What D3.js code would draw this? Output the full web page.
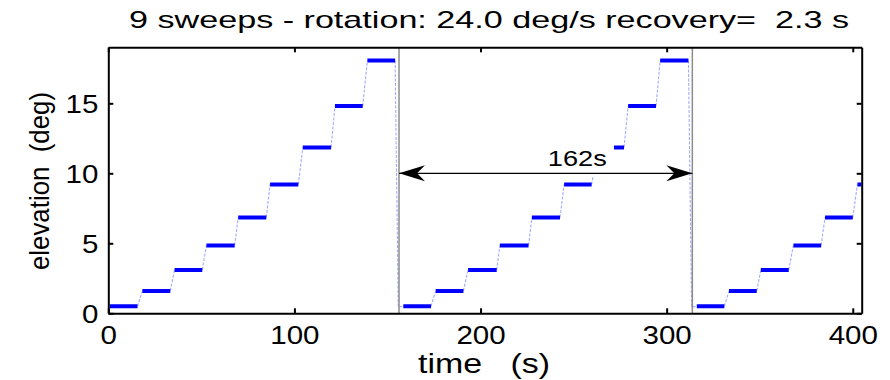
<!DOCTYPE html>
<html><head><meta charset="utf-8">
<script src="https://cdn.jsdelivr.net/npm/d3@7"></script>
<style>
html,body{margin:0;padding:0;background:#fff;}
text{font-family:"Liberation Sans",Arial,Helvetica,sans-serif;white-space:pre;}
</style></head>
<body><svg id="chart" width="890" height="380"></svg>
<script>
// ---- data ----
const stepLevels  = [0.5, 1.6, 3.1, 4.85, 6.85, 9.2, 11.85, 14.8, 18.05];
const cycle1Start = [0.8, 18.3, 35.6, 52.7, 69.8, 86.9, 104.5, 121.8, 139.2];
const cycle1End   = [15.7, 33.3, 50.5, 67.9, 84.9, 102.1, 119.7, 136.7, 154.1];
const cycle2Start = [158.5, 175.9, 193.3, 210.4, 227.6, 244.9, 271.7, 279.3, 296.5];
const cycle2End   = [173.4, 190.8, 208.7, 225.8, 242.7, 259.7, 277.1, 294.3, 311.7];
const cycle3Start = [316.2, 333.5, 350.6, 368.1, 385.1, 402.5];
const cycle3End   = [331.0, 348.4, 365.6, 383.0, 400.0, 404.8];
const resetTimes  = [155.8, 313.4];          // where the trace falls back to the lowest sweep
const gapTrace    = [[259.7, 9.2], [260.5, 9.8]]; // trace before data gap in cycle 2
const cycleMarks  = [156.2, 313.8];          // grey vertical markers
const arrowLevel  = 10;
const arrowLabel  = "162s";
const arrowLabelAt = 252;                    // time position of label centre
const xTicks = [0, 100, 200, 300, 400];
const yTicks = [0, 5, 10, 15];
const titleText = "9 sweeps - rotation: 24.0 deg/s recovery=  2.3 s";
const xLabel = "time   (s)";
const yLabel = "elevation  (deg)";

// ---- scales ----
const svg = d3.select("#chart");
const x = d3.scaleLinear().domain([0, 404.8]).range([108.3, 861.7]);
const y = d3.scaleLinear().domain([0, 19]).range([313.3, 47.3]);

// build step segments
const cycles = [[cycle1Start, cycle1End], [cycle2Start, cycle2End], [cycle3Start, cycle3End]];
const steps = [];
cycles.forEach(([s, e], ci) => s.forEach((t0, i) => steps.push({c: ci, i, t0, t1: e[i], v: stepLevels[i]})));

// thin trace segments
const traceSegs = [];
cycles.forEach(([s, e], ci) => {
  for (let i = 0; i < s.length - 1; i++) {
    if (ci === 1 && i === 5) continue; // data gap
    traceSegs.push([[e[i], stepLevels[i]], [s[i + 1], stepLevels[i + 1]]]);
  }
  if (ci < 2) {
    const last = s.length - 1;
    traceSegs.push([[e[last], stepLevels[last]], [resetTimes[ci], stepLevels[0] - 0.05], [cycles[ci + 1][0][0], stepLevels[0]]]);
  }
});
traceSegs.push(gapTrace);

svg.append("clipPath").attr("id", "clip").append("rect")
  .attr("x", x(0)).attr("y", y(19)).attr("width", x(404.8) - x(0)).attr("height", y(0) - y(19));

const plot = svg.append("g").attr("clip-path", "url(#clip)");
const line = d3.line().x(d => x(d[0])).y(d => y(d[1]));

plot.selectAll("path.trace").data(traceSegs).join("path")
  .attr("class", "trace").attr("d", line)
  .attr("fill", "none").attr("stroke", "#a2aaff").attr("stroke-width", 1.1)
  .attr("stroke-dasharray", "3,1.5");

plot.selectAll("line.step").data(steps).join("line")
  .attr("class", "step")
  .attr("x1", d => x(d.t0)).attr("x2", d => x(d.t1))
  .attr("y1", d => y(d.v)).attr("y2", d => y(d.v))
  .attr("stroke", "#0000ff").attr("stroke-width", 4);

plot.selectAll("line.mark").data(cycleMarks).join("line")
  .attr("class", "mark")
  .attr("x1", d => x(d)).attr("x2", d => x(d))
  .attr("y1", y(0)).attr("y2", y(19))
  .attr("stroke", "#8c8c8c").attr("stroke-width", 1.5);

// double arrow
const ax0 = x(cycleMarks[0]), ax1 = x(cycleMarks[1]), ay = y(arrowLevel);
svg.append("line").attr("x1", ax0).attr("x2", ax1).attr("y1", ay).attr("y2", ay)
  .attr("stroke", "#000").attr("stroke-width", 1.2);
const L = 26, W = 8, N = 18;
svg.append("path").attr("d", `M${ax0},${ay} L${ax0 + L},${ay - W} L${ax0 + N},${ay} L${ax0 + L},${ay + W} Z`).attr("fill", "#000");
svg.append("path").attr("d", `M${ax1},${ay} L${ax1 - L},${ay - W} L${ax1 - N},${ay} L${ax1 - L},${ay + W} Z`).attr("fill", "#000");
svg.append("text").attr("x", x(arrowLabelAt)).attr("y", ay - 7)
  .attr("text-anchor", "middle").attr("font-size", 22)
  .attr("textLength", 59).attr("lengthAdjust", "spacingAndGlyphs")
  .text(arrowLabel);

// axes
const sx = 1.18;
const gB = svg.append("g").attr("transform", `translate(0,${y(0)})`)
  .call(d3.axisBottom(x).tickValues(xTicks).tickSize(-5).tickSizeOuter(0).tickFormat(d3.format("d")));
const gT = svg.append("g").attr("transform", `translate(0,${y(19)})`)
  .call(d3.axisTop(x).tickValues(xTicks).tickSize(-5).tickSizeOuter(0).tickFormat(""));
const gL = svg.append("g").attr("transform", `translate(${x(0)},0)`)
  .call(d3.axisLeft(y).tickValues(yTicks).tickSize(-5).tickSizeOuter(0).tickFormat(d3.format("d")));
const gR = svg.append("g").attr("transform", `translate(${x(404.8)},0)`)
  .call(d3.axisRight(y).tickValues(yTicks).tickSize(-5).tickSizeOuter(0).tickFormat(""));
[gB, gT, gL, gR].forEach(g => {
  g.select(".domain").attr("stroke", "#000").attr("stroke-width", 2);
  g.selectAll(".tick line").attr("stroke", "#000").attr("stroke-width", 2);
  g.selectAll("text").attr("font-family", null).attr("font-size", 25).attr("fill", "#000");
});
gB.selectAll(".tick text").attr("y", 0).attr("dy", 0)
  .attr("transform", `translate(0,31) scale(${sx},1)`);
gL.selectAll(".tick text").attr("x", 0).attr("dy", 0).attr("text-anchor", "end")
  .attr("transform", `translate(-10,9) scale(${sx},1)`);

// titles
svg.append("text").attr("x", 129).attr("y", 28).attr("font-size", 24)
  .attr("textLength", 720).attr("lengthAdjust", "spacingAndGlyphs")
  .attr("xml:space", "preserve").text(titleText);
svg.append("text").attr("x", 418).attr("y", 373).attr("font-size", 27)
  .attr("textLength", 132).attr("lengthAdjust", "spacingAndGlyphs")
  .attr("xml:space", "preserve").text(xLabel);
svg.append("text").attr("transform", "translate(49,181) rotate(-90)")
  .attr("text-anchor", "middle").attr("font-size", 28)
  .attr("textLength", 178).attr("lengthAdjust", "spacingAndGlyphs")
  .attr("xml:space", "preserve").text(yLabel);
</script></body></html>
